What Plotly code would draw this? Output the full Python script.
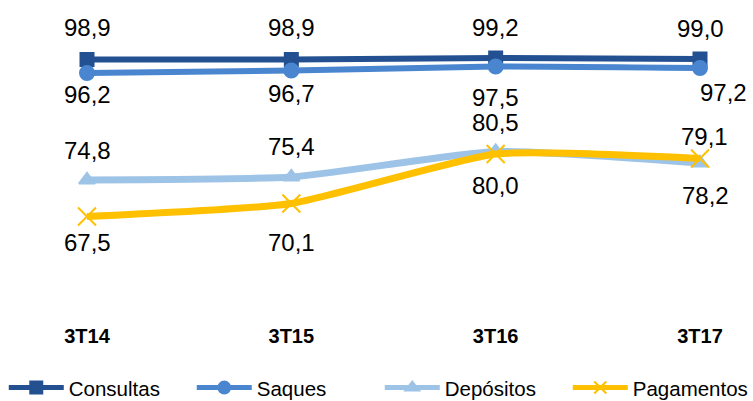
import plotly.graph_objects as go

# Quarter labels and indicator values (%)
quarters = ["3T14", "3T15", "3T16", "3T17"]
consultas = [98.9, 98.9, 99.2, 99.0]
saques = [96.2, 96.7, 97.5, 97.2]
depositos = [74.8, 75.4, 80.5, 78.2]
pagamentos = [67.5, 70.1, 80.0, 79.1]

x_pos = list(range(len(quarters)))

# Series styling: name, values, colour, marker, line width, marker size,
# label vertical offsets (px) and label horizontal offsets (px)
series = [
    ("Consultas", consultas, "#235090", "square", 6, 13,
     [-32, -32, -31, -31], [0, 0, 0, 0]),
    ("Saques", saques, "#4A85D0", "circle", 6, 14,
     [21, 23, 31, 24], [0, 0, 0, 23]),
    ("Depósitos", depositos, "#9DC3E6", "triangle-up", 7, 14,
     [-30, -31, -29, 32], [0, 0, 0, 5]),
    ("Pagamentos", pagamentos, "#FFC000", "x-thin-open", 7, 18,
     [26, 39, 31, -22], [0, 0, 0, 4]),
]

fig = go.Figure()
annotations = []
for name, vals, color, symbol, lw, ms, dy, dx in series:
    fig.add_trace(go.Scatter(
        x=x_pos, y=vals, name=name, mode="lines+markers",
        line=dict(color=color, width=lw, shape="spline", smoothing=0.5),
        marker=dict(symbol=symbol, size=ms, color=color,
                    line=dict(color=color, width=2)),
        cliponaxis=False,
    ))
    for xi, v, oy, ox in zip(x_pos, vals, dy, dx):
        annotations.append(dict(
            x=xi, y=v, xref="x", yref="y",
            text=f"{v:.1f}".replace(".", ","),
            showarrow=False, yshift=-oy, xshift=ox,
            font=dict(family="Liberation Sans, Arial, sans-serif",
                      size=24, color="#000000"),
        ))

fig.update_layout(
    width=753, height=401,
    margin=dict(l=0, r=0, t=54, b=97, autoexpand=False),
    paper_bgcolor="white", plot_bgcolor="white",
    font=dict(family="Liberation Sans, Arial, sans-serif", color="#000000"),
    annotations=annotations,
    showlegend=True,
    legend=dict(
        orientation="h", x=0.005, xanchor="left", y=-0.415, yanchor="bottom",
        font=dict(size=20.5), itemwidth=55,
        entrywidth=118, entrywidthmode="pixels",
        itemsizing="constant", tracegroupgap=0,
    ),
    xaxis=dict(
        range=[-0.4258, 3.2594], tickvals=x_pos,
        ticktext=[f"<b>{q}</b>" for q in quarters],
        showgrid=False, zeroline=False, showline=False, ticks="",
        tickfont=dict(size=20), ticklabelstandoff=18,
    ),
    yaxis=dict(
        range=[50, 100], visible=False, showgrid=False, zeroline=False,
    ),
)

fig.write_html("out.html")
